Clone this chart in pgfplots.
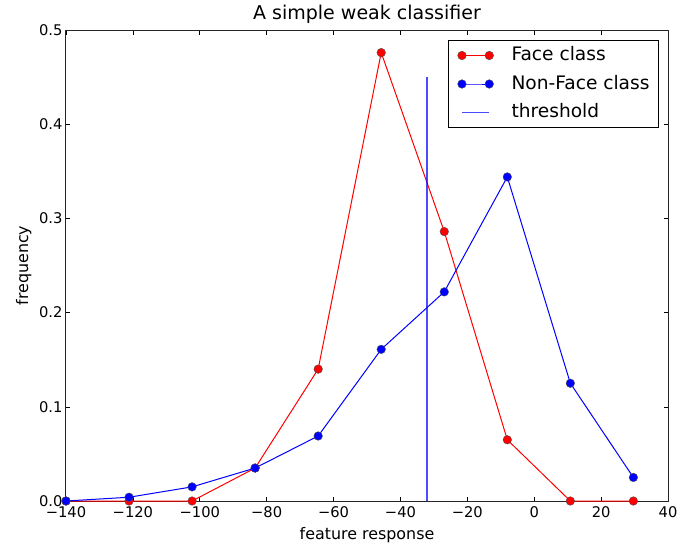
\documentclass[border=0pt]{standalone}
\usepackage{pgfplots}
\pgfplotsset{compat=1.18}
\usepackage{fontspec}
\setmainfont{DejaVu Sans}
\definecolor{facered}{rgb}{1,0,0}
\definecolor{nonblue}{rgb}{0,0,1}
\begin{document}
\begin{tikzpicture}[x=1pt,y=1pt]
\path[use as bounding box] (-66,-45) rectangle (613,501);
\begin{axis}[
  at={(0,0)}, anchor=south west,
  scale only axis, width=602pt, height=471pt,
  xmin=-140, xmax=40, ymin=0, ymax=0.5,
  xtick={-140,-120,-100,-80,-60,-40,-20,0,20,40},
  xticklabels={−140,−120,−100,−80,−60,−40,−20,0,20,40},
  ytick={0,0.1,0.2,0.3,0.4,0.5},
  yticklabels={0.0,0.1,0.2,0.3,0.4,0.5},
  tick align=inside, major tick length=4.5pt,
  tick style={black, line width=0.6pt},
  axis line style={black!85, line width=1pt},
  tick label style={font=\fontsize{14.7}{17}\selectfont},
  xticklabel style={yshift=-2.5pt},
  xlabel={feature response},
  ylabel={frequency},
  xlabel style={font=\fontsize{15.9}{18}\selectfont, at={(axis description cs:0.5,-0.0828)}, anchor=base},
  ylabel style={font=\fontsize{15.9}{18}\selectfont, at={(axis description cs:-0.0631,0.5)}, anchor=base},
  title={A simple weak classifier},
  title style={font=\fontsize{19}{22}\selectfont, at={(axis description cs:0.5,1.0106)}, anchor=base},
  legend style={at={(axis description cs:1,1)}, xshift=-9pt, yshift=-10pt, anchor=north east,
    draw=black, line width=1pt,
    font=\fontsize{18.6}{21}\selectfont, row sep=10.5pt, inner xsep=9pt, inner ysep=6pt,
    nodes={inner sep=0pt, text height=14pt, text depth=4pt},
    /tikz/every odd column/.append style={column sep=18pt}},
  legend cell align=left,
  legend image code/.code={\draw[mark repeat=2,mark phase=1,#1] plot coordinates {(0pt,0pt) (13.65pt,0pt) (27.3pt,0pt)};},
  clip=false,
]
\addplot[draw=facered, line width=1pt, mark=*, mark size=4.3pt,
  mark options={fill=facered, draw=black!70, line width=0.4pt}]
  coordinates {(-140,0) (-121.15,0) (-102.3,0) (-83.45,0.035) (-64.6,0.140) (-45.75,0.476) (-26.9,0.286) (-8.05,0.065) (10.8,0) (29.65,0)};
\addlegendentry{Face class}
\addplot[draw=nonblue, line width=1pt, mark=*, mark size=4.3pt,
  mark options={fill=nonblue, draw=black!70, line width=0.4pt}]
  coordinates {(-140,0) (-121.15,0.004) (-102.3,0.015) (-83.45,0.035) (-64.6,0.069) (-45.75,0.161) (-26.9,0.222) (-8.05,0.344) (10.8,0.125) (29.65,0.025)};
\addlegendentry{Non-Face class}
\addplot[draw=blue, draw opacity=0.7, line width=1.6pt, mark=none] coordinates {(-32,0) (-32,0.45)};
\addlegendentry{threshold}
\end{axis}
\end{tikzpicture}
\end{document}
